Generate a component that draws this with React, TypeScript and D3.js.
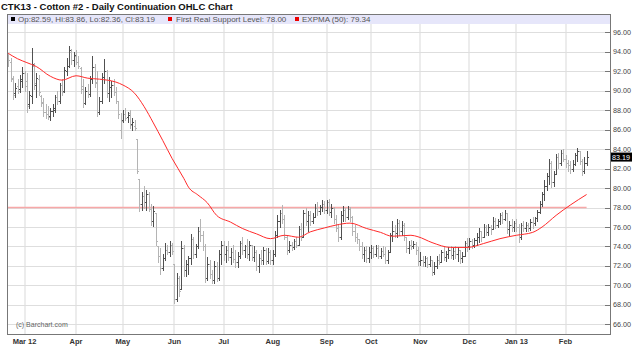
import React from 'react';
import * as d3 from 'd3';

// chart text
const title = 'CTK13 - Cotton #2 - Daily Continuation OHLC Chart';
const copyright = '(c) Barchart.com';
const supportLabel = 'First Real Support Level';
const supportLevel = 78.0;
const emaLabel = 'EXPMA (50)';

// trading calendar (ICE cotton, weekdays minus exchange closures)
const firstDay = '2012-02-21';
const lastDay = '2013-02-14';
const holidays = [
  '2012-04-06', '2012-05-28', '2012-07-04', '2012-09-03', '2012-10-29',
  '2012-10-30', '2012-11-22', '2012-12-25', '2013-01-01', '2013-01-21',
];

// price axis labels
const priceTicks = [66, 68, 70, 72, 74, 76, 78, 80, 82, 84, 86, 88, 90, 92, 94, 96];

// daily bars, one row per month (Feb 12 .. Feb 13)
const opens = [
  93.5, 93.0, 91.2, 89.8, 90.5, 90.2, 91.0,
  91.8, 91.0, 88.6, 89.5, 92.6, 90.6, 91.2, 89.5, 88.9, 87.8, 87.6, 87.4, 87.9, 88.0, 89.4, 89.0, 90.6, 90.0, 92.0, 92.6, 94.0, 93.2,
  93.6, 93.0, 92.3, 90.5, 88.8, 90.0, 89.7, 91.2, 92.4, 90.8, 87.8, 89.0, 91.4, 92.0, 89.8, 90.4, 90.6, 89.9, 89.0, 86.0,
  87.0, 87.6, 87.3, 87.7, 86.6, 86.4, 85.0, 80.9, 78.4, 79.2, 78.6, 79.4, 77.9, 76.6, 77.4, 74.0, 73.0, 71.8, 72.8, 73.6, 73.4, 74.2,
  72.2, 68.6, 70.8, 69.6, 73.8, 71.6, 72.2, 72.8, 74.8, 73.2, 74.0, 75.6, 75.2, 74.0, 70.8, 72.2, 71.2, 70.6, 72.0, 70.8, 73.2,
  74.2, 73.2, 73.6, 72.9, 73.4, 72.7, 72.4, 73.0, 74.4, 73.6, 74.0, 73.2, 74.2, 72.9, 73.4, 72.0, 72.8, 72.6, 73.6, 72.5, 73.4,
  72.6, 73.2, 75.2, 76.6, 77.4, 76.8, 75.0, 73.6, 74.2, 73.9, 74.6, 74.2, 75.8, 75.0, 77.4, 76.6, 77.2, 76.6, 77.0, 78.0, 77.6, 78.1, 78.4,
  77.8, 78.6, 77.5, 78.0, 76.8, 75.9, 75.0, 77.2, 77.8, 77.0, 77.9, 77.0, 75.6, 75.0, 74.8, 74.0, 73.2, 73.6, 72.8,
  73.4, 73.8, 73.2, 73.8, 73.0, 73.5, 73.2, 72.6, 73.4, 75.2, 75.6, 75.4, 76.4, 75.6, 76.2, 75.0, 73.8, 74.2, 74.0, 74.3, 73.6,
  72.5, 72.6, 72.4, 72.8, 72.2, 72.6, 71.4, 72.0, 72.6, 72.4, 73.4, 72.9, 73.2, 73.6, 73.1, 73.5, 73.2, 73.6, 72.8, 73.0, 74.4,
  74.0, 74.6, 74.2, 74.7, 75.0, 75.6, 75.0, 76.0, 75.5, 76.0, 75.8, 76.6, 76.2, 76.6, 77.2, 76.8, 77.4, 75.8, 76.2, 76.0,
  76.4, 76.0, 75.0, 76.2, 75.9, 76.2, 75.9, 76.5, 76.4, 76.9, 77.5, 78.4, 79.4, 80.2, 81.2, 82.6, 80.6, 81.4, 83.2, 82.6, 83.6,
  83.0, 82.6, 82.4, 82.0, 82.5, 83.4, 83.8, 82.8, 81.8, 82.59,
];
const highs = [
  93.8, 93.4, 91.5, 90.8, 91.2, 91.6, 92.4,
  92.0, 91.8, 90.0, 94.4, 92.9, 91.8, 91.6, 89.6, 89.3, 88.6, 88.4, 88.2, 88.6, 89.6, 90.0, 90.8, 91.2, 92.4, 93.4, 94.6, 94.3, 94.0,
  94.2, 93.6, 92.4, 91.2, 90.4, 90.7, 91.5, 93.6, 92.8, 92.0, 89.4, 91.8, 93.3, 92.1, 91.4, 91.0, 91.2, 90.4, 89.0, 87.7,
  88.0, 88.2, 87.8, 88.0, 87.2, 87.0, 85.0, 80.9, 79.6, 80.2, 79.8, 79.6, 78.4, 78.2, 77.4, 74.0, 73.8, 73.2, 74.4, 74.2, 74.6, 74.4,
  72.2, 71.3, 71.0, 74.6, 74.2, 72.6, 73.0, 75.3, 75.0, 74.3, 76.0, 76.8, 75.6, 74.3, 72.9, 72.6, 71.6, 72.5, 72.4, 73.6, 74.6,
  74.6, 74.0, 74.6, 73.8, 74.2, 73.6, 73.4, 74.6, 75.0, 74.2, 74.8, 74.6, 74.2, 74.0, 73.6, 73.2, 73.6, 73.9, 73.8, 73.8, 73.6,
  73.6, 75.6, 77.2, 77.8, 78.3, 77.2, 75.2, 74.6, 74.5, 74.8, 75.0, 76.1, 76.4, 77.8, 78.0, 77.6, 77.6, 77.4, 78.4, 78.6, 78.3, 78.8, 78.7,
  78.8, 78.9, 78.4, 78.1, 77.2, 76.2, 77.6, 78.2, 78.0, 78.2, 78.1, 77.1, 76.2, 75.4, 74.8, 74.5, 73.9, 74.0, 73.9,
  74.2, 74.0, 74.1, 74.2, 73.8, 74.0, 73.9, 73.6, 75.4, 76.6, 76.2, 76.8, 76.7, 76.6, 76.4, 75.0, 74.6, 74.7, 74.6, 74.5, 73.9,
  73.4, 73.0, 73.0, 72.9, 73.0, 72.6, 72.4, 73.0, 73.2, 73.6, 73.9, 73.5, 73.9, 74.0, 73.8, 74.0, 73.9, 73.6, 73.4, 74.6, 74.9,
  74.9, 74.8, 74.9, 75.4, 75.9, 75.6, 76.3, 76.2, 76.3, 76.2, 77.0, 76.9, 76.8, 77.4, 77.5, 77.7, 77.4, 76.6, 76.8, 76.6,
  76.8, 76.3, 76.4, 76.6, 76.5, 76.4, 76.8, 77.0, 77.0, 77.7, 78.7, 79.6, 80.8, 81.6, 83.0, 82.8, 81.8, 83.5, 83.6, 83.9, 84.0,
  83.4, 82.9, 82.8, 82.9, 83.6, 84.1, 83.8, 83.0, 83.2, 83.86,
];
const lows = [
  92.6, 91.0, 89.2, 89.4, 89.8, 89.9, 90.4,
  90.0, 87.8, 88.2, 88.8, 90.2, 89.4, 89.6, 88.4, 87.4, 87.2, 87.1, 87.0, 87.4, 87.8, 88.6, 88.8, 89.6, 89.9, 91.6, 92.4, 92.8, 92.6,
  92.8, 92.3, 89.8, 88.3, 88.6, 89.4, 89.5, 90.8, 90.4, 87.4, 87.6, 88.8, 90.8, 89.4, 89.0, 89.4, 89.6, 88.8, 87.2, 85.1,
  86.8, 87.0, 86.8, 86.2, 86.0, 86.0, 81.6, 77.6, 77.8, 78.0, 77.7, 77.6, 76.2, 76.1, 74.2, 72.4, 71.2, 71.6, 72.6, 73.2, 73.0, 73.2,
  68.2, 68.4, 68.9, 69.6, 71.0, 71.0, 71.2, 72.2, 72.8, 72.9, 73.8, 74.6, 73.6, 70.3, 70.6, 70.8, 70.2, 70.2, 70.4, 70.6, 72.2,
  72.6, 72.4, 72.6, 72.2, 72.4, 71.9, 71.9, 72.8, 73.2, 72.9, 72.8, 72.6, 72.6, 72.5, 71.6, 71.4, 72.2, 72.2, 72.2, 72.3, 72.2,
  72.2, 73.0, 75.0, 76.0, 76.4, 74.8, 73.2, 73.4, 73.6, 73.7, 73.9, 74.2, 74.7, 75.0, 76.2, 75.6, 76.2, 76.4, 77.0, 77.2, 77.3, 77.6, 77.4,
  77.4, 77.2, 77.0, 76.4, 75.6, 74.6, 74.8, 76.6, 76.6, 76.8, 76.6, 75.2, 74.6, 74.4, 73.6, 72.8, 72.5, 72.4, 72.4,
  72.8, 72.9, 73.0, 72.8, 72.8, 73.0, 72.3, 72.3, 73.4, 74.6, 75.0, 75.0, 75.2, 75.2, 74.7, 73.4, 73.3, 73.7, 73.8, 73.2, 72.1,
  72.1, 72.0, 72.0, 71.9, 72.0, 71.1, 71.2, 71.8, 72.2, 72.4, 72.6, 72.5, 72.8, 72.8, 72.7, 72.8, 72.5, 72.3, 72.4, 73.0, 73.5,
  73.7, 73.8, 73.9, 74.2, 74.5, 74.6, 75.0, 75.2, 75.2, 75.3, 75.8, 75.9, 76.0, 76.3, 76.4, 76.7, 75.4, 75.2, 75.6, 75.6,
  75.6, 74.5, 74.8, 75.6, 75.6, 75.6, 75.7, 75.9, 76.2, 76.6, 77.4, 78.2, 78.8, 79.8, 80.4, 80.1, 80.2, 81.4, 82.1, 82.4, 82.8,
  82.2, 81.8, 81.6, 81.8, 82.4, 82.8, 82.5, 81.3, 81.6, 82.36,
];
const closes = [
  93.2, 91.3, 89.6, 90.3, 90.0, 91.2, 91.8,
  90.5, 88.4, 89.6, 92.8, 90.8, 91.3, 89.9, 88.8, 87.8, 87.6, 87.3, 87.9, 88.2, 89.4, 89.0, 90.6, 89.9, 92.1, 92.6, 94.2, 93.2, 93.7,
  93.0, 92.6, 90.2, 88.8, 90.0, 89.7, 91.2, 92.4, 90.9, 87.8, 89.0, 91.4, 92.0, 89.8, 90.4, 90.6, 89.9, 89.0, 87.6, 86.9,
  87.6, 87.2, 87.5, 86.5, 86.8, 86.2, 81.8, 78.4, 79.2, 78.6, 79.4, 77.9, 76.6, 77.6, 74.6, 73.0, 71.8, 72.8, 73.6, 73.4, 74.2, 73.5,
  68.6, 70.8, 69.4, 73.8, 71.6, 72.2, 72.8, 74.8, 73.2, 74.0, 75.6, 75.2, 74.0, 70.8, 72.2, 71.2, 70.6, 72.0, 70.8, 73.2, 74.2,
  73.2, 73.6, 72.9, 73.4, 72.7, 72.4, 73.0, 74.4, 73.6, 74.0, 73.2, 74.2, 72.9, 73.4, 72.0, 72.8, 72.6, 73.6, 72.5, 73.4, 72.6,
  73.2, 75.2, 76.6, 77.4, 76.8, 75.0, 73.6, 74.2, 73.9, 74.6, 74.2, 75.8, 75.0, 77.4, 76.6, 77.2, 76.6, 77.0, 78.0, 77.6, 78.1, 78.4, 77.8,
  78.6, 77.5, 78.0, 76.8, 75.9, 75.0, 77.2, 77.8, 77.0, 77.9, 77.0, 75.6, 75.0, 74.8, 74.0, 73.2, 73.6, 72.8, 73.4,
  73.8, 73.2, 73.8, 73.0, 73.5, 73.2, 72.6, 73.4, 75.2, 75.6, 75.4, 76.4, 75.6, 76.2, 75.0, 73.8, 74.2, 74.0, 74.3, 73.6, 72.5,
  72.6, 72.4, 72.8, 72.2, 72.6, 71.4, 72.0, 72.6, 72.4, 73.4, 72.9, 73.2, 73.6, 73.1, 73.5, 73.2, 73.6, 72.8, 73.0, 74.4, 74.0,
  74.6, 74.2, 74.7, 75.0, 75.6, 75.0, 76.0, 75.5, 76.0, 75.8, 76.6, 76.2, 76.6, 77.2, 76.8, 77.4, 75.8, 76.2, 76.0, 76.4,
  76.0, 75.0, 76.2, 75.9, 76.2, 75.9, 76.5, 76.4, 76.9, 77.5, 78.4, 79.4, 80.2, 81.2, 82.6, 80.6, 81.4, 83.2, 82.6, 83.6, 83.0,
  82.6, 82.4, 82.0, 82.5, 83.4, 83.8, 82.8, 81.8, 82.6, 83.19,
];

// 50-day exponential average, read at sample trading days
const emaDay = [0, 4, 8, 12, 18, 23, 29, 34, 39, 46, 49, 54, 58, 62, 66, 70, 75, 77, 81, 85, 89, 95, 100, 106, 112, 118, 124, 129, 135, 140, 146, 153, 159, 164, 172, 175, 181, 189, 196, 203, 210, 217, 224, 228, 234, 240, 247];
const emaValue = [93.86, 93.3, 92.9, 92.5, 91.5, 91.1, 91.55, 91.3, 91.2, 90.9, 90.6, 89.75, 88.4, 86.7, 84.9, 83.05, 81.0, 80.1, 79.3, 78.5, 77.2, 76.5, 75.85, 75.3, 74.8, 75.15, 74.95, 75.5, 75.9, 76.2, 76.4, 75.85, 75.45, 75.05, 75.15, 75.0, 74.4, 73.9, 73.9, 74.3, 74.8, 75.15, 75.45, 76.0, 77.2, 78.25, 79.34];

const W = 640;
const H = 363;
const left = 7;
const right = 610;
const top = 14;
const bottom = 334;
const font = '"Liberation Sans", Arial, sans-serif';

const parse = d3.timeParse('%Y-%m-%d');
const fmt = d3.timeFormat('%Y-%m-%d');
const days = d3.timeDay
  .range(parse(firstDay)!, d3.timeDay.offset(parse(lastDay)!, 1))
  .filter((d) => d.getDay() > 0 && d.getDay() < 6 && !holidays.includes(fmt(d)));

export default function App() {
  const n = closes.length;
  const x = d3.scaleLinear().domain([-0.5, n + 9]).range([left, right]);
  const y = d3.scaleLinear().domain([65, 97.9]).range([bottom, top]);

  // first trading day of every month
  const monthStarts = days
    .map((d, i) => ({ d, i }))
    .filter(({ d, i }) => i > 0 && d.getMonth() !== days[i - 1].getMonth());
  const monthLabel = (d: Date, k: number) =>
    k === 0 || d.getMonth() === 0 ? d3.timeFormat('%b %y')(d) : d3.timeFormat('%b')(d);

  const ema = d3
    .line<number>()
    .x((d, k) => x(emaDay[k]))
    .y((d) => y(d))
    .curve(d3.curveMonotoneX)(emaValue);

  const px = (v: number) => Math.round(v) + 0.5;
  const last = n - 1;
  const lastEma = emaValue[emaValue.length - 1];
  const legendText = `Op:${opens[last].toFixed(2)}, Hi:${highs[last].toFixed(2)}, Lo:${lows[last].toFixed(2)}, Cl:${closes[last].toFixed(2)}`;

  return (
    <svg
      width={W}
      height={H}
      style={{ position: 'absolute', left: 0, top: 0, background: '#fff' }}
      fontFamily={font}
    >
      <text x={1} y={10} fontSize={9.5} fontWeight="bold" fill="#111">
        {title}
      </text>

      {/* grid */}
      {monthStarts.map(({ i }) => (
        <rect key={'v' + i} x={Math.round(x(i)) - 1} y={top} width={2} height={bottom - top} fill="#ececec" />
      ))}
      {priceTicks.map((t) => (
        <line key={'h' + t} x1={left} x2={right - 5} y1={px(y(t))} y2={px(y(t))} stroke="#dedede" strokeWidth={1} />
      ))}

      {/* support level */}
      <line
        x1={left}
        x2={x(last)}
        y1={y(supportLevel)}
        y2={y(supportLevel)}
        stroke="#f7a8a8"
        strokeWidth={1.5}
      />

      {/* OHLC bars */}
      <g shapeRendering="crispEdges">
        {closes.map((c, i) => {
          const xi = Math.round(x(i));
          const up = i === 0 ? c >= opens[i] : c >= closes[i - 1];
          const col = up ? '#505050' : '#b4b4b4';
          const yh = Math.round(y(highs[i]));
          const yl = Math.round(y(lows[i]));
          return (
            <g key={i} fill={col}>
              <rect x={xi} y={yh} width={1} height={Math.max(1, yl - yh + 1)} />
              <rect x={xi - 1} y={Math.round(y(opens[i]))} width={1} height={1} />
              <rect x={xi + 1} y={Math.round(y(c))} width={1} height={1} />
            </g>
          );
        })}
      </g>

      {/* EMA */}
      <path d={ema ?? ''} fill="none" stroke="#ff2a2a" strokeWidth={1} />

      {/* legend strip */}
      <rect x={left} y={top} width={right - left} height={10} fill="#e6e6fa" />
      <rect x={11} y={17} width={4} height={4} fill="#000" />
      <text x={18} y={22} fontSize={8} fill="#555">{legendText}</text>
      <rect x={168} y={17} width={4} height={4} fill="#e00" />
      <text x={176} y={22} fontSize={8} fill="#555">{`${supportLabel}: ${supportLevel.toFixed(2)}`}</text>
      <rect x={295} y={17} width={4} height={4} fill="#e00" />
      <text x={302} y={22} fontSize={8} fill="#555">{`${emaLabel}: ${lastEma.toFixed(2)}`}</text>

      <text x={16} y={327} fontSize={7} fill="#666">{copyright}</text>

      {/* frame */}
      <rect x={left + 0.5} y={top + 0.5} width={right - left} height={bottom - top} fill="none" stroke="#777" strokeWidth={1} />

      {/* price axis */}
      {priceTicks.map((t) => (
        <g key={'t' + t}>
          <line x1={right - 5} x2={right} y1={px(y(t))} y2={px(y(t))} stroke="#777" />
          <text x={613} y={y(t)} dy="0.35em" fontSize={7.2} fill="#444">
            {t.toFixed(2)}
          </text>
        </g>
      ))}
      <rect x={611} y={y(closes[last]) - 4.5} width={21} height={9} fill="#000" />
      <text x={612} y={y(closes[last])} dy="0.35em" fontSize={7.2} fill="#fff">
        {closes[last].toFixed(2)}
      </text>

      {/* month axis */}
      {monthStarts.map(({ d, i }, k) => (
        <text key={'m' + i} x={x(i)} y={344} textAnchor="middle" fontSize={7.5} fontWeight="bold" fill="#333">
          {monthLabel(d, k)}
        </text>
      ))}
    </svg>
  );
}
